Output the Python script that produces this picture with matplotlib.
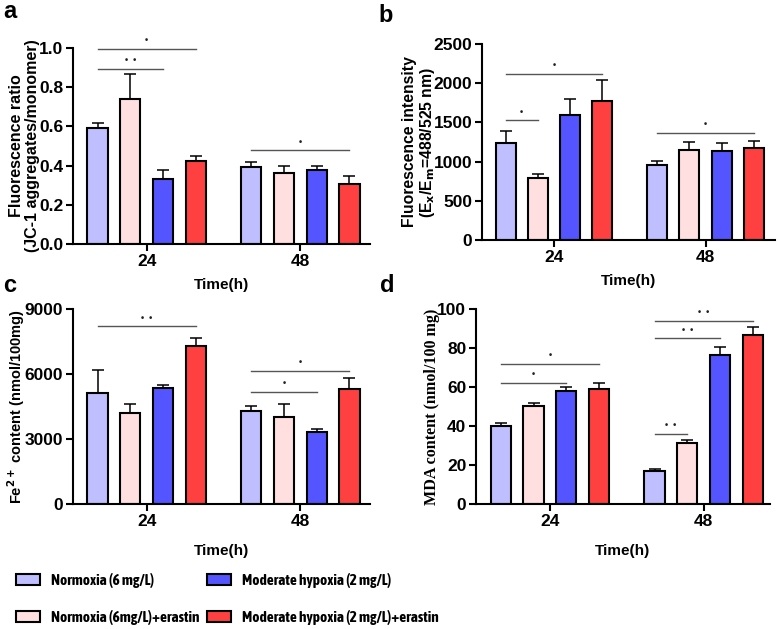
import matplotlib
matplotlib.use('Agg')
import matplotlib.pyplot as plt
import numpy as np
from matplotlib.patches import Patch

plt.rcParams['font.family'] = ['Liberation Sans', 'DejaVu Sans']
plt.rcParams['font.weight'] = 'bold'
plt.rcParams['axes.labelweight'] = 'bold'
plt.rcParams['mathtext.default'] = 'bf'

groups = ['Normoxia (6 mg/L)', 'Normoxia (6mg/L)+erastin',
          'Moderate hypoxia (2 mg/L)', 'Moderate hypoxia (2 mg/L)+erastin']
colors = ['#BFBFFF', '#FFDFDF', '#5555FF', '#FF4040']
times = ['24', '48']

# panel a - JC-1 ratio
a_mean = [[0.59, 0.74, 0.33, 0.425], [0.395, 0.36, 0.375, 0.305]]
a_err = [[0.026, 0.125, 0.048, 0.022], [0.022, 0.037, 0.023, 0.043]]
a_sig = [(0, 0, 3, 0.997, '*'), (0, 0, 2, 0.894, '**'), (1, 0, 3, 0.477, '*')]

# panel b - fluorescence intensity
b_mean = [[1235, 788, 1597, 1767], [962, 1150, 1137, 1180]]
b_err = [[162, 55, 205, 277], [47, 98, 98, 85]]
b_sig = [(0, 0, 3, 2121, '*'), (0, 0, 1, 1525, '*'), (1, 0, 3, 1363, '*')]

# panel c - Fe2+
c_mean = [[5147, 4192, 5348, 7305], [4300, 4007, 3329, 5317]]
c_err = [[1048, 416, 154, 339], [231, 601, 138, 508]]
c_sig = [(0, 0, 3, 8198, '**'), (1, 0, 3, 6149, '*'), (1, 0, 2, 5163, '*')]

# panel d - MDA
d_mean = [[40.2, 50.3, 58.0, 58.9], [17.0, 31.3, 76.2, 86.6]]
d_err = [[1.6, 1.4, 1.8, 3.1], [1.2, 1.4, 4.3, 4.2]]
d_sig = [(0, 0, 3, 71.7, '*'), (0, 0, 2, 62.0, '*'), (1, 0, 3, 93.8, '**'),
         (1, 0, 2, 84.9, '**'), (1, 0, 1, 36.1, '**')]

GAP = 4.7
W = 0.62
offs = np.array([-1.5, -0.5, 0.5, 1.5])
NARROW = ['Asap Condensed', 'Barlow Condensed', 'Archivo Narrow', 'Liberation Sans']


def draw(ax, mean, err, sig, ylim, yticks, xlim, ylabel, ysize, ylx, yfont=None, xpad=7):
    for g in range(2):
        x = g * GAP + offs
        ax.bar(x, mean[g], W, color=colors, edgecolor='black', linewidth=1.5, zorder=2)
        ax.errorbar(x, mean[g], yerr=[np.zeros(4), err[g]], fmt='none',
                    ecolor='black', elinewidth=1.1, capsize=4, capthick=1.1, zorder=1)
    for g, i, j, y, lab in sig:
        x0 = g * GAP + offs[i]
        x1 = g * GAP + offs[j]
        ax.plot([x0, x1], [y, y], color='#555555', lw=1.0)
        txt = '  '.join(['\u2022'] * len(lab))
        ax.text((x0 + x1) / 2, y + (ylim[1] - ylim[0]) * 0.02, txt,
                ha='center', va='bottom', fontsize=6.5, color='#222222')
    ax.set_xlim(*xlim)
    ax.set_ylim(*ylim)
    ax.set_yticks(yticks)
    ax.set_xticks([0, GAP])
    ax.set_xticklabels(times)
    ax.spines['top'].set_visible(False)
    ax.spines['right'].set_visible(False)
    for s in ['left', 'bottom']:
        ax.spines[s].set_linewidth(1.5)
    ax.tick_params(axis='both', width=1.5, length=5, labelsize=12.5, pad=2)
    for t in ax.get_yticklabels() + ax.get_xticklabels():
        t.set_fontweight('bold')
    ax.set_xlabel('Time(h)', fontsize=11, fontweight='bold', labelpad=xpad)
    if yfont:
        ax.set_ylabel(ylabel, fontsize=ysize, fontweight='bold', family=yfont)
    else:
        ax.set_ylabel(ylabel, fontsize=ysize, fontweight='bold', linespacing=1.05)
    ax.yaxis.set_label_coords(ylx, 0.5)


fig = plt.figure(figsize=(7.78, 6.29), dpi=100)
ax_a = fig.add_axes([0.0938, 0.6121, 0.3818, 0.3116])
ax_b = fig.add_axes([0.6195, 0.6184, 0.3765, 0.3116])
ax_c = fig.add_axes([0.0938, 0.1987, 0.3818, 0.3100])
ax_d = fig.add_axes([0.6118, 0.1987, 0.3779, 0.3100])

draw(ax_a, a_mean, a_err, a_sig, (0, 1.0), [0, 0.2, 0.4, 0.6, 0.8, 1.0], (-2.25, 6.83),
     'Fluorescence ratio\n(JC-1 aggregates/monomer)', 11.5, -0.112)
ax_a.set_yticklabels(['0.0', '0.2', '0.4', '0.6', '0.8', '1.0'])
draw(ax_b, b_mean, b_err, b_sig, (0, 2500), [0, 500, 1000, 1500, 2000, 2500], (-2.23, 6.85),
     'Fluorescence intensity\n(E$_x$/E$_m$=488/525 nm)', 11.3, -0.153)
draw(ax_c, c_mean, c_err, c_sig, (0, 9000), [0, 3000, 6000, 9000], (-2.25, 6.83),
     'Fe$^{2+}$ content (nmol/100mg)', 10.5, -0.155, xpad=11)
draw(ax_d, d_mean, d_err, d_sig, (0, 100), [0, 20, 40, 60, 80, 100], (-2.26, 6.73),
     'MDA content (nmol/100 mg)', 11.6, -0.122, yfont=['Liberation Serif', 'DejaVu Serif'], xpad=11)

for lab, x, y in [('a', 0.004, 0.972), ('b', 0.486, 0.965), ('c', 0.004, 0.536), ('d', 0.488, 0.536)]:
    fig.text(x, y, lab, fontsize=17, fontweight='bold', va='baseline')

handles = [Patch(facecolor=c, edgecolor='black', linewidth=1.5) for c in colors]
leg_kw = dict(loc='upper left', frameon=False, borderpad=0, borderaxespad=0,
              handlelength=1.6, handleheight=0.75, labelspacing=1.45, handletextpad=0.7,
              prop={'family': NARROW, 'weight': 'bold', 'size': 11})
fig.legend(handles[:2], groups[:2], bbox_to_anchor=(16 / 778, 0.089), **leg_kw)
fig.legend(handles[2:], groups[2:], bbox_to_anchor=(207 / 778, 0.089), **leg_kw)

fig.savefig('out.png', dpi=100)
